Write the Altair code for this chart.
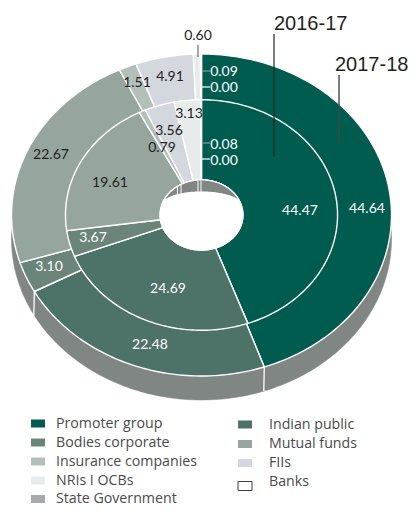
import math
import altair as alt

categories = ["Promoter group", "Indian public", "Bodies corporate", "Mutual funds",
              "Insurance companies", "FIIs", "NRIs I OCBs", "Banks", "State Government"]
colors = ["#005c4f", "#4d7268", "#6b857a", "#96a69f", "#b5bfba", "#d3d8df", "#e8ebec", "#ffffff", "#a7a9ac"]
values_2017_18 = [44.64, 22.48, 3.10, 22.67, 1.51, 4.91, 0.60, 0.09, 0.00]
values_2016_17 = [44.47, 24.69, 3.67, 19.61, 0.79, 3.56, 3.13, 0.08, 0.00]
label_text = ["44.64", "44.47", "22.48", "24.69", "3.10", "3.67", "22.67", "19.61", "1.51", "4.91",
              "3.56", "0.79", "3.13", "0.60", "0.09", "0.00", "0.08", "0.00"]
legend_col1 = ["Promoter group", "Bodies corporate", "Insurance companies", "NRIs I OCBs", "State Government"]
legend_col2 = ["Indian public", "Mutual funds", "FIIs", "Banks"]
year_labels = ["2016-17", "2017-18"]

# ---- layout ----
CX, CY, RX, RY = 201.5, 215.0, 190.0, 161.0
MID, HOLE, DEPTH = 0.716, 0.218, 24.0
WALL = "#7f8684"
WHITE = "#ffffff"
DARK = "#231f20"

label_xy = [(367, 209), (300, 211), (150, 345), (168, 289), (49, 267), (93, 238), (51, 155), (110, 183),
            (137, 83), (170, 77), (169, 131), (162, 148), (189, 114), (198, 36), (224, 72), (224, 88),
            (224, 144.5), (224, 160.5)]
label_col = [WHITE, WHITE, WHITE, WHITE, WHITE, WHITE, DARK, DARK, DARK, DARK, DARK, DARK, DARK, DARK,
             WHITE, WHITE, WHITE, WHITE]
legend1_y = [423.5, 442.5, 461.5, 480.5, 499]
legend2_y = [424.5, 444, 463, 482]


def pt(pct, r, dy=0.0):
    t = math.radians(pct * 3.6)
    return [CX + r * RX * math.sin(t), CY - r * RY * math.cos(t) + dy]


def arc(p0, p1, r, dy=0.0):
    n = max(2, int(abs(p1 - p0) * 3) + 2)
    return [pt(p0 + (p1 - p0) * i / (n - 1), r, dy) for i in range(n)]


def feat(geom_type, coords, **props):
    return {"type": "Feature", "properties": props, "geometry": {"type": geom_type, "coordinates": coords}}


def closed(points):
    return [points + [points[0]]]


def rect(x0, y0, x1, y1):
    return closed([[x0, y0], [x1, y0], [x1, y1], [x0, y1]])


def ring(values, r_in, r_out, sw):
    out, cum = [], 0.0
    for name, v in zip(categories, values):
        if v > 0:
            poly = arc(cum, cum + v, r_out) + arc(cum + v, cum, r_in)
            out.append(feat("Polygon", closed(poly), category=name, stroke=WHITE, sw=sw))
        cum += v
    return out


PROJ = dict(type="identity")
W, H = 402, 499

color_scale = alt.Scale(domain=categories, range=colors)

# wall
wall_feats = [feat("Polygon", rect(8, 8, 8 + W, 8 + H), fill="transparent", stroke="transparent", sw=0),
              feat("Polygon", closed(arc(0, 100, 1.0, DEPTH)), fill=WALL, stroke=WALL, sw=0.5)]
wall_layer = alt.Chart(alt.Data(values=wall_feats)).mark_geoshape().encode(
    fill=alt.Fill("properties.fill:N", scale=None),
    stroke=alt.Stroke("properties.stroke:N", scale=None),
    strokeWidth=alt.StrokeWidth("properties.sw:Q", scale=None),
).project(**PROJ)

# wedges + legend swatches
wedge_feats = ring(values_2017_18, HOLE, 1.0, 1.4) + ring(values_2016_17, HOLE, MID, 1.4)
for name, y in zip(legend_col1, legend1_y):
    wedge_feats.append(feat("Polygon", rect(31, y - 4, 45, y + 4), category=name, stroke="none", sw=0))
for name, y in zip(legend_col2, legend2_y):
    if name == "Banks":
        wedge_feats.append(feat("Polygon", rect(238, y - 0.5, 252, y + 8.5), category=name, stroke="#3c3c3c", sw=1))
    else:
        wedge_feats.append(feat("Polygon", rect(238, y - 4, 252, y + 4), category=name, stroke="none", sw=0))
wedge_layer = alt.Chart(alt.Data(values=wedge_feats)).mark_geoshape().encode(
    color=alt.Color("properties.category:N", scale=color_scale, legend=None),
    stroke=alt.Stroke("properties.stroke:N", scale=None),
    strokeWidth=alt.StrokeWidth("properties.sw:Q", scale=None),
).project(**PROJ)

# hole with visible back wall
hole_feats = [feat("Polygon", closed(arc(0, 100, HOLE)), fill=WHITE)]
tip = 66.0 / 3.6
lens_top = arc(-tip, tip, HOLE)
lens_low = [[x, 207.0 - 15.0 * math.sqrt(max(0.0, 1 - ((x - CX) / (RX * HOLE)) ** 2))] for x, _ in reversed(lens_top)]
hole_feats.append(feat("Polygon", closed(lens_top + lens_low), fill=WALL))
hole_layer = alt.Chart(alt.Data(values=hole_feats)).mark_geoshape(stroke=WHITE, strokeWidth=1.2).encode(
    fill=alt.Fill("properties.fill:N", scale=None),
).project(**PROJ)

# lines: wall separators, hole-wall separators, leaders
lines = []
cum0 = values_2017_18[0]
cum1 = cum0 + values_2017_18[1]
for c in (cum0, cum1):
    a = pt(c, 1.0)
    lines.append(feat("LineString", [a, [a[0] - 0.5, a[1] + DEPTH]], stroke=WHITE, sw=1.3))
for x, y0, y1 in [(177.5, 187, 197), (181, 185, 195), (198, 181, 192), (201, 181, 192)]:
    lines.append(feat("LineString", [[x, y0], [x, y1]], stroke=WHITE, sw=1.0))
lines.append(feat("LineString", [[198, 45], [198, 57]], stroke="#6d6e71", sw=1.2))
for y, col in [(71, "#8b9a94"), (87, WHITE), (143, "#8b9a94"), (159, WHITE)]:
    lines.append(feat("LineString", [[202, y], [210, y]], stroke=col, sw=1.2))
lines.append(feat("LineString", [[274, 34], [274, 157]], stroke="#1f2a2a", sw=1.2))
lines.append(feat("LineString", [[339, 75], [339, 143]], stroke="#3c4a48", sw=1.4))
line_layer = alt.Chart(alt.Data(values=lines)).mark_geoshape(filled=False).encode(
    stroke=alt.Stroke("properties.stroke:N", scale=None),
    strokeWidth=alt.StrokeWidth("properties.sw:Q", scale=None),
).project(**PROJ)

# value labels
label_rows = [{"t": t, "x": p[0], "y": p[1], "c": c} for t, p, c in zip(label_text, label_xy, label_col)]
label_layer = alt.Chart(alt.Data(values=label_rows)).mark_text(
    font="Lato", fontSize=14, align="center", baseline="middle"
).encode(
    longitude="x:Q", latitude="y:Q", text="t:N", color=alt.Color("c:N", scale=None)
).project(**PROJ)

# legend labels
leg_rows = [{"t": t, "x": 56, "y": y} for t, y in zip(legend_col1, legend1_y)] + \
           [{"t": t, "x": 269, "y": y} for t, y in zip(legend_col2, legend2_y)]
legend_layer = alt.Chart(alt.Data(values=leg_rows)).mark_text(
    font="Open Sans", fontSize=14.2, align="left", baseline="middle", color="#4a4a4a"
).encode(longitude="x:Q", latitude="y:Q", text="t:N").project(**PROJ)

# year headers
year_rows = [{"t": year_labels[0], "x": 274, "y": 24}, {"t": year_labels[1], "x": 335, "y": 65}]
year_layer = alt.Chart(alt.Data(values=year_rows)).mark_text(
    font="Liberation Sans", fontSize=20, align="left", baseline="middle", color="#231f20"
).encode(longitude="x:Q", latitude="y:Q", text="t:N").project(**PROJ)

chart = alt.layer(
    wall_layer, wedge_layer, hole_layer, line_layer, label_layer, legend_layer, year_layer
).properties(
    width=W, height=H, padding=0, autosize=alt.AutoSizeParams(type="none")
).configure_view(stroke=None)

chart.save("out.html", embed_options={"renderer": "svg", "actions": False})
